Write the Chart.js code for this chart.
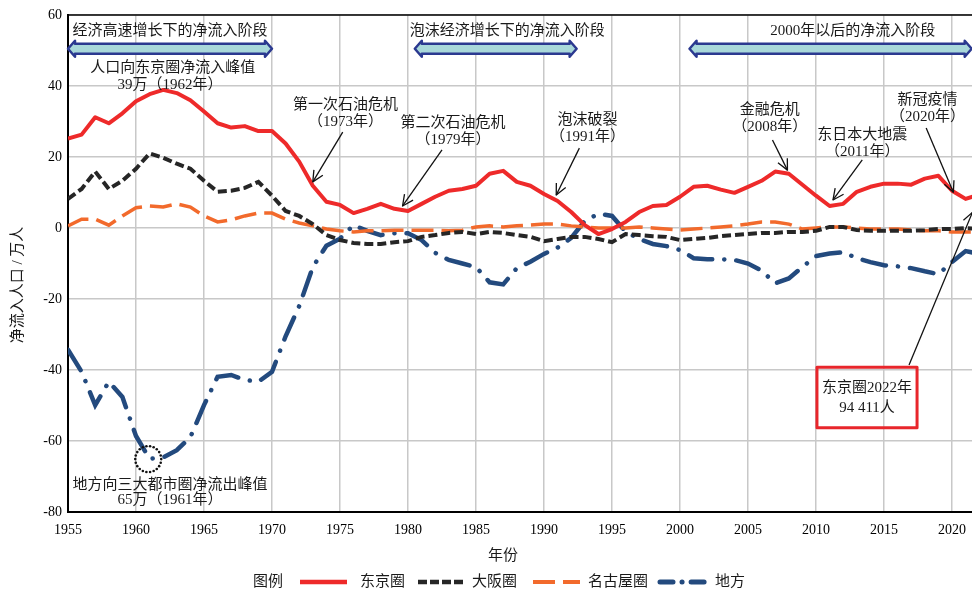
<!DOCTYPE html>
<html>
<head>
<meta charset="utf-8">
<script src="https://cdn.jsdelivr.net/npm/chart.js@4.4.1/dist/chart.umd.min.js"></script>
<style>
  html, body { margin: 0; padding: 0; background: #fff; overflow: hidden; }
  #wrap { width: 972px; height: 592px; }
</style>
</head>
<body>
<div id="wrap"><canvas id="chart" width="972" height="592"></canvas></div>
<script>
// Net migration into the three metro areas, 1955-2022 (10k persons)
const years = [
  1955, 1956, 1957, 1958, 1959, 1960, 1961, 1962, 1963, 1964,
  1965, 1966, 1967, 1968, 1969, 1970, 1971, 1972, 1973, 1974,
  1975, 1976, 1977, 1978, 1979, 1980, 1981, 1982, 1983, 1984,
  1985, 1986, 1987, 1988, 1989, 1990, 1991, 1992, 1993, 1994,
  1995, 1996, 1997, 1998, 1999, 2000, 2001, 2002, 2003, 2004,
  2005, 2006, 2007, 2008, 2009, 2010, 2011, 2012, 2013, 2014,
  2015, 2016, 2017, 2018, 2019, 2020, 2021, 2022
];

const tokyo = [
  25.2, 26.3, 31.2, 29.5, 32.3, 35.7, 37.7, 38.9, 38.0, 36.0,
  32.8, 29.5, 28.3, 28.7, 27.3, 27.3, 23.8, 18.7, 11.9, 7.4,
  6.5, 4.2, 5.4, 6.8, 5.4, 4.8, 6.8, 8.8, 10.5, 11.0,
  11.9, 15.3, 16.1, 13.0, 11.9, 9.6, 7.6, 4.5, 0.8, -1.7,
  -0.3, 1.7, 4.5, 6.2, 6.5, 8.8, 11.6, 11.9, 10.8, 9.9,
  11.6, 13.3, 15.9, 15.3, 12.2, 9.1, 6.2, 6.8, 10.2, 11.6,
  12.5, 12.5, 12.2, 13.9, 14.7, 10.5, 8.2, 9.4
];

const osaka = [
  8.2, 11.0, 15.9, 11.0, 13.3, 16.7, 21.0, 19.8, 18.1, 16.7,
  13.3, 10.2, 10.5, 11.3, 13.0, 9.1, 4.8, 3.4, 1.1, -2.0,
  -3.4, -4.2, -4.5, -4.5, -4.0, -3.7, -2.5, -2.0, -1.4, -1.1,
  -1.7, -1.1, -1.4, -2.0, -2.5, -3.7, -3.1, -2.5, -2.5, -3.1,
  -4.0, -1.7, -2.0, -2.3, -2.5, -3.4, -3.1, -2.8, -2.3, -2.0,
  -1.7, -1.4, -1.4, -1.1, -1.1, -0.8, 0.3, 0.3, -0.6, -0.8,
  -0.8, -0.8, -0.8, -0.6, -0.3, -0.3, 0.0, -0.3
];

const nagoya = [
  0.6, 2.5, 2.5, 0.8, 3.4, 5.7, 6.2, 5.9, 6.8, 5.9,
  3.4, 1.7, 2.3, 3.4, 4.2, 4.2, 2.5, 1.4, 0.6, -0.3,
  -0.8, -1.1, -0.8, -0.8, -0.6, -0.6, -0.6, -0.6, -0.8, -0.6,
  0.3, 0.6, 0.3, 0.6, 0.8, 1.1, 1.1, 0.6, 0.3, 0.0,
  0.0, 0.0, 0.3, 0.0, -0.3, -0.6, -0.3, 0.0, 0.3, 0.6,
  1.1, 1.7, 1.7, 1.1, -0.3, 0.0, 0.3, 0.3, 0.0, -0.3,
  -0.3, -0.3, -0.6, -0.8, -0.8, -1.1, -1.1, -1.1
];

const regional = [
  -34.3, -40.5, -49.9, -43.3, -47.6, -58.6, -65.0, -64.6, -62.6, -58.9,
  -49.9, -41.9, -41.4, -42.8, -43.3, -40.5, -30.5, -22.0, -11.0, -5.0,
  -3.0, 0.8, -0.8, -2.0, -1.5, -1.5, -3.4, -7.0, -9.0, -10.0,
  -11.0, -15.3, -15.9, -11.3, -9.5, -7.3, -5.5, -2.8, 2.0, 4.0,
  3.4, -1.0, -3.1, -4.5, -5.1, -6.2, -8.5, -8.8, -8.8, -9.0,
  -10.0, -12.0, -15.6, -14.2, -11.0, -7.9, -7.2, -6.8, -8.5, -9.6,
  -10.5, -10.8, -11.3, -12.2, -13.0, -9.6, -6.5, -7.3
];

const xTicks = [1955, 1960, 1965, 1970, 1975, 1980, 1985, 1990, 1995, 2000, 2005, 2010, 2015, 2020];
const seriesNames = ['东京圈', '大阪圈', '名古屋圈', '地方'];

const FONT = '"Liberation Serif", "Noto Sans CJK SC", serif';
const TEXT = '#1a1a1a';

// stage arrows along the top
const stages = [
  { label: '经济高速增长下的净流入阶段', from: 1955, to: 1970, labelX: 1962.5 },
  { label: '泡沫经济增长下的净流入阶段', from: 1980.5, to: 1992.4, labelX: 1987.3 },
  { label: '2000年以后的净流入阶段', from: 2000.7, to: 2021.45, labelX: 2012.7 }
];

// event notes: two text lines, arrow start and tip (data coords)
const notes = [
  { lines: ['第一次石油危机', '（1973年）'], x: 1975.4, y: 34.6, from: [1975.2, 27.0], to: [1973.0, 13.0] },
  { lines: ['第二次石油危机', '（1979年）'], x: 1983.3, y: 29.6, from: [1982.5, 22.0], to: [1979.6, 6.2] },
  { lines: ['泡沫破裂', '（1991年）'], x: 1993.2, y: 30.4, from: [1992.6, 22.5], to: [1990.9, 9.3] },
  { lines: ['金融危机', '（2008年）'], x: 2006.6, y: 33.2, from: [2006.8, 24.8], to: [2007.9, 16.3] },
  { lines: ['东日本大地震', '（2011年）'], x: 2013.4, y: 26.2, from: [2013.4, 19.2], to: [2011.25, 7.9] },
  { lines: ['新冠疫情', '（2020年）'], x: 2018.2, y: 36.1, from: [2018.1, 28.2], to: [2020.1, 10.1] }
];

function drawBand(ctx, x1, x2, yc) {
  const bh = 5, hh = 8, hl = 7;
  ctx.beginPath();
  ctx.moveTo(x1, yc);
  ctx.lineTo(x1 + hl, yc - hh);
  ctx.lineTo(x1 + hl, yc - bh);
  ctx.lineTo(x2 - hl, yc - bh);
  ctx.lineTo(x2 - hl, yc - hh);
  ctx.lineTo(x2, yc);
  ctx.lineTo(x2 - hl, yc + hh);
  ctx.lineTo(x2 - hl, yc + bh);
  ctx.lineTo(x1 + hl, yc + bh);
  ctx.lineTo(x1 + hl, yc + hh);
  ctx.closePath();
  ctx.fillStyle = '#A9D8DA';
  ctx.fill();
  ctx.strokeStyle = '#2B3990';
  ctx.lineWidth = 2.5;
  ctx.lineJoin = 'round';
  ctx.stroke();
}

function drawArrow(ctx, x1, y1, x2, y2) {
  ctx.strokeStyle = '#111';
  ctx.lineWidth = 1.3;
  ctx.beginPath();
  ctx.moveTo(x1, y1);
  ctx.lineTo(x2, y2);
  ctx.stroke();
  const a = Math.atan2(y2 - y1, x2 - x1), L = 12, w = 0.45;
  ctx.beginPath();
  ctx.moveTo(x2 - L * Math.cos(a - w), y2 - L * Math.sin(a - w));
  ctx.lineTo(x2, y2);
  ctx.lineTo(x2 - L * Math.cos(a + w), y2 - L * Math.sin(a + w));
  ctx.stroke();
}

function text(ctx, s, x, y, size) {
  ctx.font = (size || 15) + 'px ' + FONT;
  ctx.fillStyle = TEXT;
  ctx.textAlign = 'center';
  ctx.textBaseline = 'middle';
  ctx.fillText(s, x, y);
}

const overlay = {
  id: 'overlay',
  afterDatasetsDraw(chart) {
    const { ctx, chartArea, scales } = chart;
    const X = v => scales.x.getPixelForValue(v);
    const Y = v => scales.y.getPixelForValue(v);
    ctx.save();

    // top frame line
    ctx.strokeStyle = '#000';
    ctx.lineWidth = 1.5;
    ctx.beginPath();
    ctx.moveTo(chartArea.left, chartArea.top);
    ctx.lineTo(chartArea.right, chartArea.top);
    ctx.stroke();

    stages.forEach(s => {
      drawBand(ctx, X(s.from), X(s.to), Y(50.5));
      text(ctx, s.label, X(s.labelX), Y(55.6));
    });

    // peak notes
    text(ctx, '人口向东京圈净流入峰值', X(1962.7), Y(45.1));
    text(ctx, '39万（1962年）', X(1962.5), Y(40.3));
    text(ctx, '地方向三大都市圈净流出峰值', X(1962.5), Y(-72.4));
    text(ctx, '65万（1961年）', X(1962.5), Y(-76.6));

    // dotted circle round the regional trough
    ctx.fillStyle = '#111';
    const cx = X(1960.9), cy = Y(-65.1), r = 13;
    for (let i = 0; i < 22; i++) {
      const t = i / 22 * Math.PI * 2;
      ctx.beginPath();
      ctx.arc(cx + r * Math.cos(t), cy + r * Math.sin(t), 1.3, 0, Math.PI * 2);
      ctx.fill();
    }

    notes.forEach(n => {
      text(ctx, n.lines[0], X(n.x), Y(n.y));
      text(ctx, n.lines[1], X(n.x), Y(n.y) + 17);
      drawArrow(ctx, X(n.from[0]), Y(n.from[1]), X(n.to[0]), Y(n.to[1]));
    });

    // 2022 callout box
    const bx1 = X(2010.07), bx2 = X(2017.43), by1 = Y(-39.2), by2 = Y(-56.3);
    drawArrow(ctx, X(2016.84), Y(-38.6), X(2021.5), Y(4.4));
    ctx.strokeStyle = '#E8262B';
    ctx.lineWidth = 3;
    ctx.strokeRect(bx1, by1, bx2 - bx1, by2 - by1);
    text(ctx, '东京圈2022年', (bx1 + bx2) / 2, Y(-45.1));
    text(ctx, '94 411人', (bx1 + bx2) / 2, Y(-50.7));

    ctx.restore();
  },
  afterDraw(chart) {
    const { ctx } = chart;
    ctx.save();
    // axis titles
    text(ctx, '年份', 503, 556);
    ctx.translate(18, 285);
    ctx.rotate(-Math.PI / 2);
    text(ctx, '净流入人口 / 万人', 0, 0);
    ctx.setTransform(1, 0, 0, 1, 0, 0);
    ctx.restore();

    // legend
    ctx.save();
    const ly = 582;
    ctx.font = '15px ' + FONT;
    ctx.fillStyle = TEXT;
    ctx.textAlign = 'left';
    ctx.textBaseline = 'middle';
    ctx.fillText('图例', 253, ly);
    const slots = [[300, 360], [418, 472], [533, 588], [660, 715]];
    chart.data.datasets.forEach((ds, i) => {
      const [sx, tx] = slots[i];
      ctx.strokeStyle = ds.borderColor;
      ctx.lineWidth = ds.borderWidth + 0.5;
      ctx.lineCap = ds.borderCapStyle || 'butt';
      ctx.setLineDash(ds.legendDash || []);
      ctx.beginPath();
      ctx.moveTo(sx, ly);
      ctx.lineTo(sx + 47, ly);
      ctx.stroke();
      ctx.setLineDash([]);
      ctx.fillStyle = TEXT;
      ctx.fillText(ds.label, tx, ly);
    });
    ctx.restore();
  }
};

function series(values) {
  return years.map((yr, i) => ({ x: yr, y: values[i] }));
}

new Chart(document.getElementById('chart'), {
  type: 'line',
  data: {
    datasets: [
      {
        label: seriesNames[0], data: series(tokyo),
        borderColor: '#EE2A2A', borderWidth: 4, pointRadius: 0, tension: 0,
        borderJoinStyle: 'round'
      },
      {
        label: seriesNames[1], data: series(osaka),
        borderColor: '#262626', borderWidth: 4, borderDash: [9, 4], legendDash: [9, 3],
        pointRadius: 0, tension: 0
      },
      {
        label: seriesNames[2], data: series(nagoya),
        borderColor: '#F26A2C', borderWidth: 3.5, borderDash: [22, 8], legendDash: [22, 8],
        pointRadius: 0, tension: 0
      },
      {
        label: seriesNames[3], data: series(regional),
        borderColor: '#234A7E', borderWidth: 4.5, borderDash: [24, 12, 0.1, 12],
        legendDash: [13, 9, 0.1, 9], borderCapStyle: 'round',
        pointRadius: 0, tension: 0
      }
    ]
  },
  options: {
    responsive: false,
    animation: false,
    layout: { padding: { top: 15, right: 0, left: 0, bottom: 0 } },
    plugins: {
      legend: { display: false },
      tooltip: { enabled: false }
    },
    scales: {
      x: {
        type: 'linear',
        min: 1955,
        max: 2021.47,
        afterBuildTicks: s => { s.ticks = xTicks.map(v => ({ value: v })); },
        afterFit: s => { s.height = 80; s.paddingLeft = 0; s.paddingRight = 0; },
        grid: { color: '#C8C8C8', lineWidth: 1.5, drawTicks: false },
        border: { display: true, color: '#000', width: 2 },
        ticks: {
          font: { family: FONT, size: 14 },
          color: '#000',
          padding: 10,
          maxRotation: 0,
          autoSkip: false,
          callback: v => String(v)
        }
      },
      y: {
        min: -80,
        max: 60,
        afterFit: s => { s.width = 68; s.paddingTop = 0; s.paddingBottom = 0; },
        grid: { color: '#C8C8C8', lineWidth: 1.5, drawTicks: false },
        border: { display: true, color: '#000', width: 2 },
        ticks: {
          stepSize: 20,
          font: { family: FONT, size: 14 },
          color: '#000',
          padding: 6
        }
      }
    }
  },
  plugins: [overlay]
});
</script>
</body>
</html>
